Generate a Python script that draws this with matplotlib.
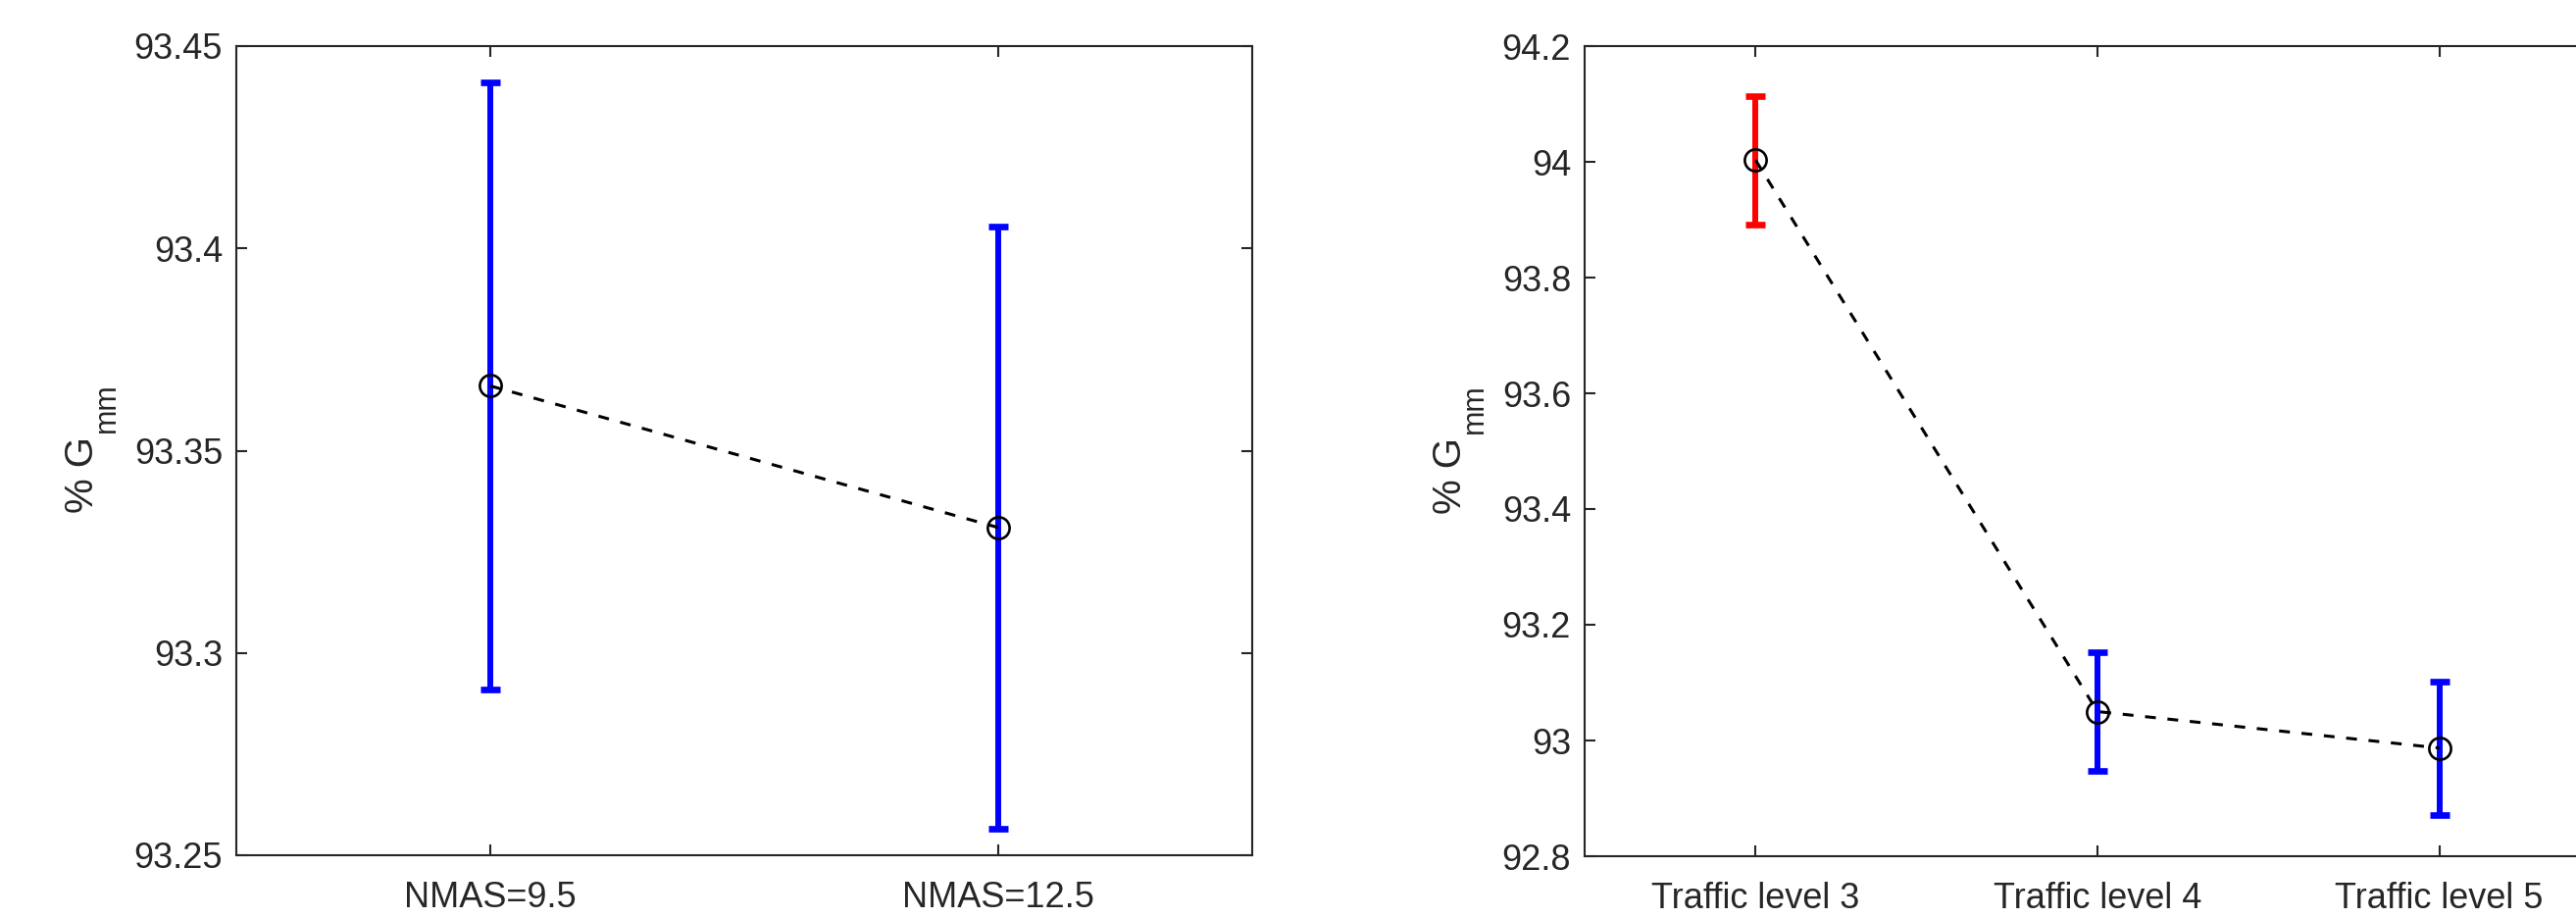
import numpy as np
import matplotlib
matplotlib.use('Agg')
import matplotlib.pyplot as plt
from matplotlib.ticker import FormatStrFormatter

# values (mean and half-width of the error bar)
nmas_labels = ['NMAS=9.5', 'NMAS=12.5']
nmas_mean = [93.366, 93.331]
nmas_err = [0.075, 0.0745]

traffic_labels = ['Traffic level 3', 'Traffic level 4', 'Traffic level 5']
traffic_mean = [94.003, 93.050, 92.987]
traffic_err = [0.111, 0.103, 0.115]

nmas_colors = ['blue', 'blue']
traffic_colors = ['red', 'blue', 'blue']

plt.rcParams['font.family'] = ['Liberation Sans', 'DejaVu Sans']

W, H = 2627, 936
fig = plt.figure(figsize=(W / 100, H / 100), dpi=100)
ax1 = fig.add_axes([241 / W, 1 - 872 / H, 1036 / W, 825 / H])
ax2 = fig.add_axes([1616 / W, 1 - 873 / H, 1046 / W, 826 / H])

ink = '#262626'


def draw(ax, labels, means, errs, colors, ylim, yticks):
    x = np.arange(1, len(labels) + 1)
    for xi, m, e, c in zip(x, means, errs, colors):
        ax.errorbar(xi, m, yerr=e, fmt='none', ecolor=c,
                    elinewidth=4.3, capsize=7.5, capthick=4.8, zorder=2)
    ax.plot(x, means, color='black', linestyle='--', dashes=(3.6, 3.9), lw=2.2,
            marker='o', mfc='none', mec='black', ms=16, mew=1.9, zorder=3)
    ax.set_xlim(0.5, len(labels) + 0.5)
    ax.set_ylim(*ylim)
    ax.set_xticks(x)
    ax.set_xticklabels(labels)
    ax.set_yticks(yticks)
    ax.yaxis.set_major_formatter(FormatStrFormatter('%g'))
    # MATLAB-style label: subscript sits well below the baseline of "G"
    ax.set_ylabel('% G', fontsize=29, color=ink, labelpad=24, y=0.47)
    ax.annotate('mm', xy=(1, 1), xycoords=ax.yaxis.label,
                xytext=(-7, 3), textcoords='offset points',
                rotation=90, ha='left', va='bottom', fontsize=22, color=ink)
    ax.tick_params(direction='in', top=True, right=True, length=8, width=1.5,
                   labelsize=26, colors=ink)
    ax.tick_params(axis='x', pad=19)
    ax.tick_params(axis='y', pad=10)
    for s in ax.spines.values():
        s.set_color(ink)
        s.set_linewidth(1.5)


draw(ax1, nmas_labels, nmas_mean, nmas_err, nmas_colors,
     (93.25, 93.45), [93.25, 93.3, 93.35, 93.4, 93.45])
draw(ax2, traffic_labels, traffic_mean, traffic_err, traffic_colors,
     (92.8, 94.2), [92.8, 93.0, 93.2, 93.4, 93.6, 93.8, 94.0, 94.2])

fig.savefig('out.png', dpi=100)
